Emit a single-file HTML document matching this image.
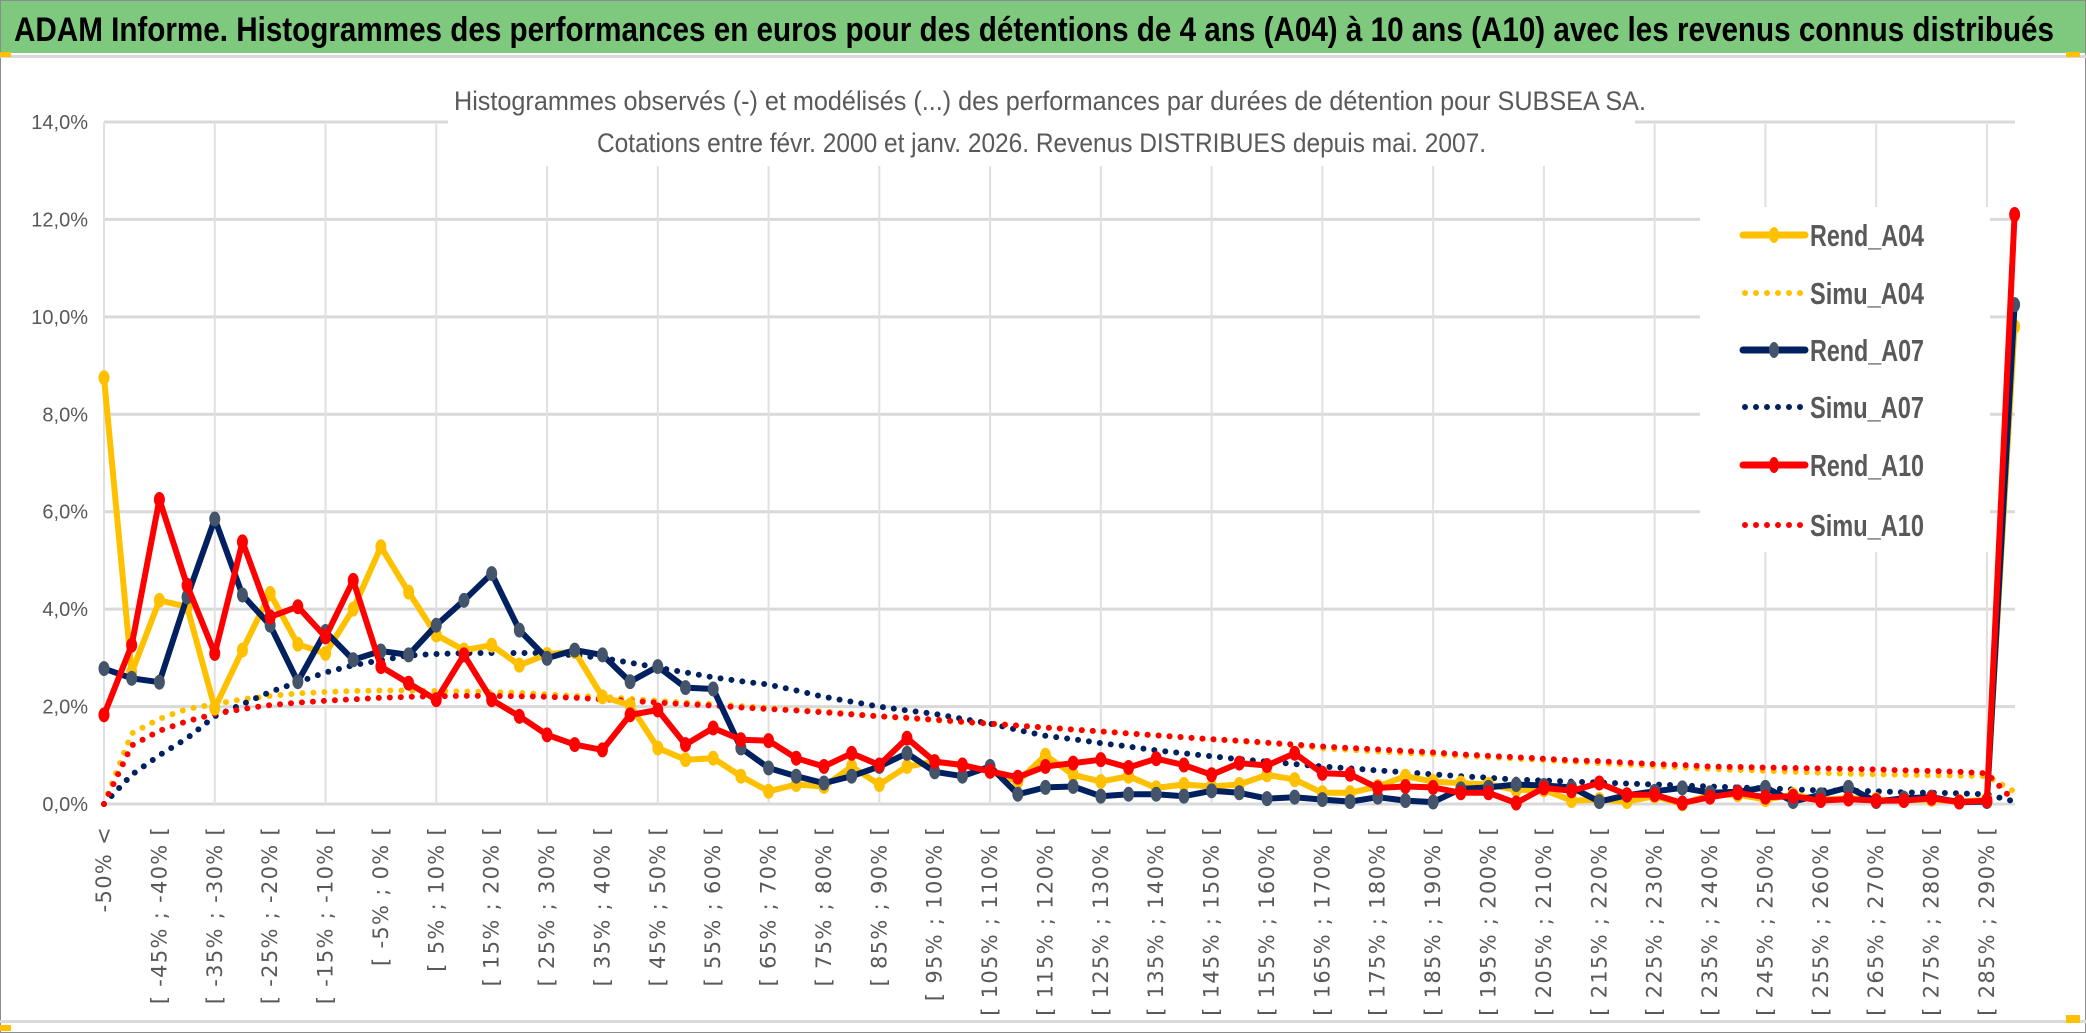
<!DOCTYPE html>
<html><head><meta charset="utf-8"><style>
html,body{margin:0;padding:0;background:#fff;}
svg{display:block;}
</style></head><body>
<svg id="chart" width="2086" height="1033" viewBox="0 0 2086 1033" xmlns="http://www.w3.org/2000/svg">
<rect x="0" y="0" width="2086" height="1033" fill="#ffffff"/>
<rect x="0.5" y="0.5" width="2085" height="1032" fill="none" stroke="#8c8c8c" stroke-width="1"/>
<rect x="1" y="1" width="2084" height="52" fill="#7FC97F"/>
<text x="14" y="41" font-family="'Liberation Sans Narrow','Liberation Sans',sans-serif" font-weight="bold" font-size="34" fill="#000" textLength="2040" lengthAdjust="spacingAndGlyphs">ADAM Informe. Histogrammes des performances en euros pour des détentions de 4 ans (A04) à 10 ans (A10) avec les revenus connus distribués</text>
<rect x="0" y="55" width="2086" height="3" fill="#d9d9d9"/>
<rect x="0" y="1020" width="2086" height="3" fill="#d9d9d9"/>
<rect x="0" y="52" width="11" height="5" fill="#FFC000"/>
<rect x="2066" y="52" width="14" height="5" fill="#FFC000"/>
<rect x="0" y="1025" width="11" height="6" fill="#FFC000"/>
<rect x="2066" y="1015" width="14" height="8" fill="#FFC000"/>
<g id="grid"></g>
<rect x="448" y="86" width="1187" height="80" fill="#fff"/>
<text x="454" y="110" font-family="'Liberation Sans Narrow','Liberation Sans',sans-serif" font-size="27" fill="#595959" textLength="1192" lengthAdjust="spacingAndGlyphs">Histogrammes observés (-) et modélisés (...) des performances par durées de détention pour SUBSEA SA.</text>
<text x="597" y="152" font-family="'Liberation Sans Narrow','Liberation Sans',sans-serif" font-size="27" fill="#595959" textLength="889" lengthAdjust="spacingAndGlyphs">Cotations entre févr. 2000 et janv. 2026. Revenus DISTRIBUES depuis mai. 2007.</text>
<g id="yaxis"></g>
<g id="xaxis"></g>
<g id="series"></g>
<g id="legend"></g>
</svg>
<script>
const simuA04 = [0,1.45,1.75,1.95,2.05,2.15,2.22,2.27,2.3,2.32,2.33,2.33,2.32,2.31,2.3,2.28,2.25,2.22,2.2,2.16,2.12,2.08,2.05,2.01,1.97,1.93,1.9,1.85,1.8,1.76,1.72,1.68,1.65,1.61,1.57,1.53,1.49,1.45,1.41,1.37,1.33,1.29,1.25,1.21,1.14,1.11,1.08,1.05,1.02,0.99,0.96,0.93,0.9,0.87,0.84,0.81,0.78,0.75,0.72,0.7,0.68,0.66,0.64,0.62,0.61,0.6,0.59,0.58,0.57,0.25];
const simuA07 = [0,0.6,1.0,1.35,1.8,2.05,2.3,2.5,2.7,2.85,2.95,3.05,3.08,3.1,3.1,3.1,3.1,3.05,3.0,2.9,2.8,2.7,2.6,2.52,2.45,2.33,2.2,2.1,2.0,1.92,1.85,1.75,1.65,1.52,1.4,1.33,1.25,1.18,1.1,1.04,0.98,0.92,0.87,0.82,0.77,0.73,0.69,0.65,0.61,0.57,0.54,0.5,0.48,0.46,0.44,0.42,0.4,0.38,0.36,0.34,0.32,0.3,0.28,0.27,0.26,0.24,0.23,0.22,0.2,0.05];
const simuA10 = [0,1.2,1.5,1.7,1.85,1.95,2.03,2.08,2.12,2.15,2.18,2.2,2.21,2.22,2.22,2.21,2.2,2.18,2.15,2.12,2.08,2.05,2.02,1.98,1.95,1.92,1.88,1.84,1.8,1.77,1.73,1.69,1.65,1.61,1.57,1.53,1.49,1.45,1.41,1.37,1.33,1.3,1.26,1.22,1.18,1.15,1.12,1.09,1.06,1.02,0.99,0.96,0.93,0.9,0.88,0.85,0.82,0.8,0.77,0.76,0.75,0.74,0.73,0.72,0.71,0.69,0.68,0.66,0.63,0.05];
const rendA04 = [8.75,2.7,4.18,4.05,1.97,3.16,4.32,3.28,3.09,4.0,5.28,4.35,3.47,3.16,3.26,2.85,3.07,3.13,2.2,2.03,1.15,0.91,0.94,0.57,0.26,0.4,0.36,0.77,0.4,0.77,0.87,0.8,0.67,0.46,1.0,0.6,0.46,0.57,0.33,0.4,0.36,0.4,0.6,0.5,0.23,0.23,0.36,0.57,0.46,0.43,0.4,0.29,0.29,0.07,0.09,0.05,0.16,0,0.19,0.19,0.09,0.19,0.09,0.12,0.09,0.07,0.09,0.05,0.09,9.8];
const rendA07 = [2.78,2.58,2.5,4.25,5.85,4.29,3.67,2.51,3.54,2.96,3.14,3.06,3.67,4.18,4.73,3.57,2.99,3.16,3.06,2.51,2.82,2.39,2.36,1.15,0.74,0.57,0.43,0.57,0.77,1.04,0.66,0.57,0.77,0.2,0.34,0.36,0.16,0.2,0.2,0.16,0.27,0.23,0.11,0.14,0.09,0.05,0.14,0.07,0.04,0.31,0.34,0.4,0.38,0.34,0.05,0.18,0.26,0.33,0.23,0.25,0.34,0.05,0.19,0.34,0.05,0.12,0.14,0.04,0.05,10.25];
const rendA10 = [1.83,3.26,6.25,4.49,3.09,5.38,3.84,4.05,3.43,4.59,2.82,2.48,2.14,3.06,2.14,1.8,1.42,1.22,1.11,1.83,1.93,1.22,1.56,1.32,1.3,0.94,0.77,1.04,0.8,1.35,0.87,0.8,0.67,0.55,0.77,0.84,0.91,0.75,0.93,0.8,0.6,0.84,0.79,1.04,0.63,0.61,0.33,0.36,0.34,0.23,0.23,0.02,0.33,0.27,0.43,0.19,0.19,0.02,0.14,0.23,0.14,0.16,0.07,0.1,0.07,0.07,0.12,0.04,0.07,12.1];
const yTicks = [0,2,4,6,8,10,12,14];
const yTickLabels = ["0,0%","2,0%","4,0%","6,0%","8,0%","10,0%","12,0%","14,0%"];
const categories = ["-50% <"];
for (let k = 1; k < 69; k++) { const a = -50 + 5*(k-1); categories.push("[ " + a + "% ; " + (a+5) + "% ["); }
categories.push(">= 290%");

const NS = "http://www.w3.org/2000/svg";
const X0 = 104, STEP = 27.69, Y0 = 804, YTOP = 122, YMAX = 14, XR = 2015;
function xs(i){ return X0 + STEP*i; }
function ys(v){ return Y0 - (Y0-YTOP)*v/YMAX; }
function mk(tag, attrs, parent){ const e = document.createElementNS(NS, tag); for (const k in attrs) e.setAttribute(k, attrs[k]); parent.appendChild(e); return e; }

const grid = document.getElementById('grid');
yTicks.forEach(function(t){
  const l = mk('line',{x1:X0,x2:XR,y1:ys(t),y2:ys(t),stroke:'#d9d9d9','stroke-width':3},grid);
  
  
});
for (let i = 0; i < categories.length; i += 4) {
  const l = mk('line',{x1:xs(i),x2:xs(i),y1:YTOP,y2:Y0,stroke:'#e0e0e0','stroke-width':2},grid);
  
  
}
const yaxis = document.getElementById('yaxis');
yTicks.forEach(function(t, j){
  const tx = mk('text',{x:88,y:ys(t)+7,'text-anchor':'end','font-family':"'Liberation Sans Narrow','Liberation Sans',sans-serif",'font-size':20,fill:'#595959'},yaxis);
  tx.textContent = yTickLabels[j];
  
  
});
const xaxis = document.getElementById('xaxis');
for (let i = 0; i < categories.length; i += 2) {
  const x = xs(i) + 7, y = 826;
  const tx = mk('text',{x:x,y:y,transform:'rotate(-90 '+x+' '+y+')','text-anchor':'end','font-family':"'DejaVu Sans',sans-serif",'font-size':21,'letter-spacing':'1.3',fill:'#595959'},xaxis);
  tx.textContent = categories[i];
  
  
}
const series = document.getElementById('series');
function pts(arr){ return arr.map(function(v,i){ return xs(i).toFixed(1)+','+ys(v).toFixed(1); }).join(' '); }
function dotted(arr, color, name){
  const p = mk('polyline',{points:pts(arr),fill:'none',stroke:color,'stroke-width':6,'stroke-linecap':'round','stroke-dasharray':'0 11'},series);
  
  
}
function solid(arr, color, mcolor, name){
  const g = mk('g',{},series);
  
  
  mk('polyline',{points:pts(arr),fill:'none',stroke:color,'stroke-width':6,'stroke-linejoin':'round'},g);
  arr.forEach(function(v,i){
    const c = mk('ellipse',{cx:xs(i),cy:ys(v),rx:5.5,ry:7.5,fill:mcolor},g);
    
    
  });
}
dotted(simuA04,'#FFC000','simu-a04-line');
dotted(simuA07,'#002060','simu-a07-line');
dotted(simuA10,'#FF0000','simu-a10-line');
solid(rendA04,'#FFC000','#FFC000','rend-a04-line');
solid(rendA07,'#002060','#44546A','rend-a07-line');
solid(rendA10,'#FF0000','#FF0000','rend-a10-line');

const legend = document.getElementById('legend');
mk('rect',{x:1700,y:207,width:290,height:345,fill:'#fff'},legend);
const legNames = ['Rend_A04','Simu_A04','Rend_A07','Simu_A07','Rend_A10','Simu_A10'];
const legColors = ['#FFC000','#FFC000','#002060','#002060','#FF0000','#FF0000'];
const legMarker = ['#FFC000',null,'#44546A',null,'#FF0000',null];
const legY = [235,293,350,407,465,525];
legNames.forEach(function(n, j){
  const g = mk('g',{},legend);
  
  
  const y = legY[j];
  if (legMarker[j]) {
    mk('line',{x1:1743,x2:1805,y1:y,y2:y,stroke:legColors[j],'stroke-width':7,'stroke-linecap':'round'},g);
    mk('ellipse',{cx:1774,cy:y,rx:5,ry:8,fill:legMarker[j]},g);
  } else {
    mk('line',{x1:1745,x2:1805,y1:y,y2:y,stroke:legColors[j],'stroke-width':6,'stroke-linecap':'round','stroke-dasharray':'0 11'},g);
  }
  const t = mk('text',{x:1810,y:y+11,'font-family':"'Liberation Sans Narrow','Liberation Sans',sans-serif",'font-size':31,'font-weight':'bold',fill:'#595959',textLength:114,lengthAdjust:'spacingAndGlyphs'},g);
  t.textContent = n;
  
  
});
</script>
</body></html>
